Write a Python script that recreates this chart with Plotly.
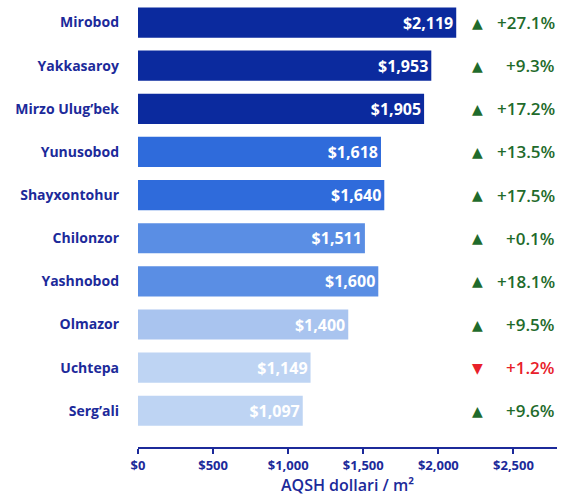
import plotly.graph_objects as go

districts = ["Mirobod", "Yakkasaroy", "Mirzo Ulug\u2019bek", "Yunusobod", "Shayxontohur",
             "Chilonzor", "Yashnobod", "Olmazor", "Uchtepa", "Serg\u2019ali"]
prices = [2119, 1953, 1905, 1618, 1640, 1511, 1600, 1400, 1149, 1097]
changes = ["+27.1%", "+9.3%", "+17.2%", "+13.5%", "+17.5%", "+0.1%", "+18.1%", "+9.5%", "+1.2%", "+9.6%"]
direction = ["up", "up", "up", "up", "up", "up", "up", "up", "down", "up"]
bar_colors = ["#0b2a9e", "#0b2a9e", "#0b2a9e", "#2f6bdb", "#2f6bdb",
              "#5a8ee4", "#5a8ee4", "#a9c4ef", "#bed4f3", "#bed4f3"]
tick_vals = [0, 500, 1000, 1500, 2000, 2500]
tick_text = ["$0", "$500", "$1,000", "$1,500", "$2,000", "$2,500"]

NAVY = "#1c2a9a"
FONT = "Open Sans"

fig = go.Figure(go.Bar(
    x=prices, y=districts, orientation="h",
    marker=dict(color=bar_colors, line=dict(width=0)),
    width=0.7,
    text=[f"${p:,}" for p in prices],
    textposition="inside", insidetextanchor="end",
    textfont=dict(color="white", size=16, family=FONT),
    texttemplate="<b>%{text}</b>",
    cliponaxis=False,
    hoverinfo="skip",
))

for d, c, dr in zip(districts, changes, direction):
    col = "#1f6b2c" if dr == "up" else "#e8202a"
    sym = "\u25B2" if dr == "up" else "\u25BC"
    fig.add_annotation(x=0.81, y=d, xref="paper", yref="y", text=sym, showarrow=False,
                       font=dict(color=col, size=14, family="DejaVu Sans"), xanchor="center")
    fig.add_annotation(x=1.0, y=d, xref="paper", yref="y", text=c, showarrow=False,
                       font=dict(color=col, size=17, family=FONT, weight=600), xanchor="right")

fig.update_layout(
    width=563, height=498,
    margin=dict(l=138, r=6, t=1, b=51),
    plot_bgcolor="white", paper_bgcolor="white",
    showlegend=False,
    font=dict(family=FONT, color=NAVY),
    xaxis=dict(range=[0, 2790], tickvals=tick_vals, ticktext=tick_text,
               showgrid=False, zeroline=False, showline=True, linecolor=NAVY, linewidth=2,
               ticks="outside", ticklen=5, tickwidth=2, tickcolor=NAVY,
               tickfont=dict(size=13, color=NAVY, family=FONT, weight="bold"),
               title=dict(text="AQSH dollari / m\u00b2",
                          font=dict(size=16, color=NAVY, family=FONT, weight=600),
                          standoff=4)),
    yaxis=dict(categoryorder="array", categoryarray=districts, range=[9.84, -0.5],
               showgrid=False, zeroline=False, showline=False, ticks="",
               ticklabelstandoff=18,
               tickfont=dict(size=14, color=NAVY, family=FONT, weight="bold")),
)

fig.write_html("out.html", config={"displayModeBar": False},
               post_script="document.body.style.margin='0';")
